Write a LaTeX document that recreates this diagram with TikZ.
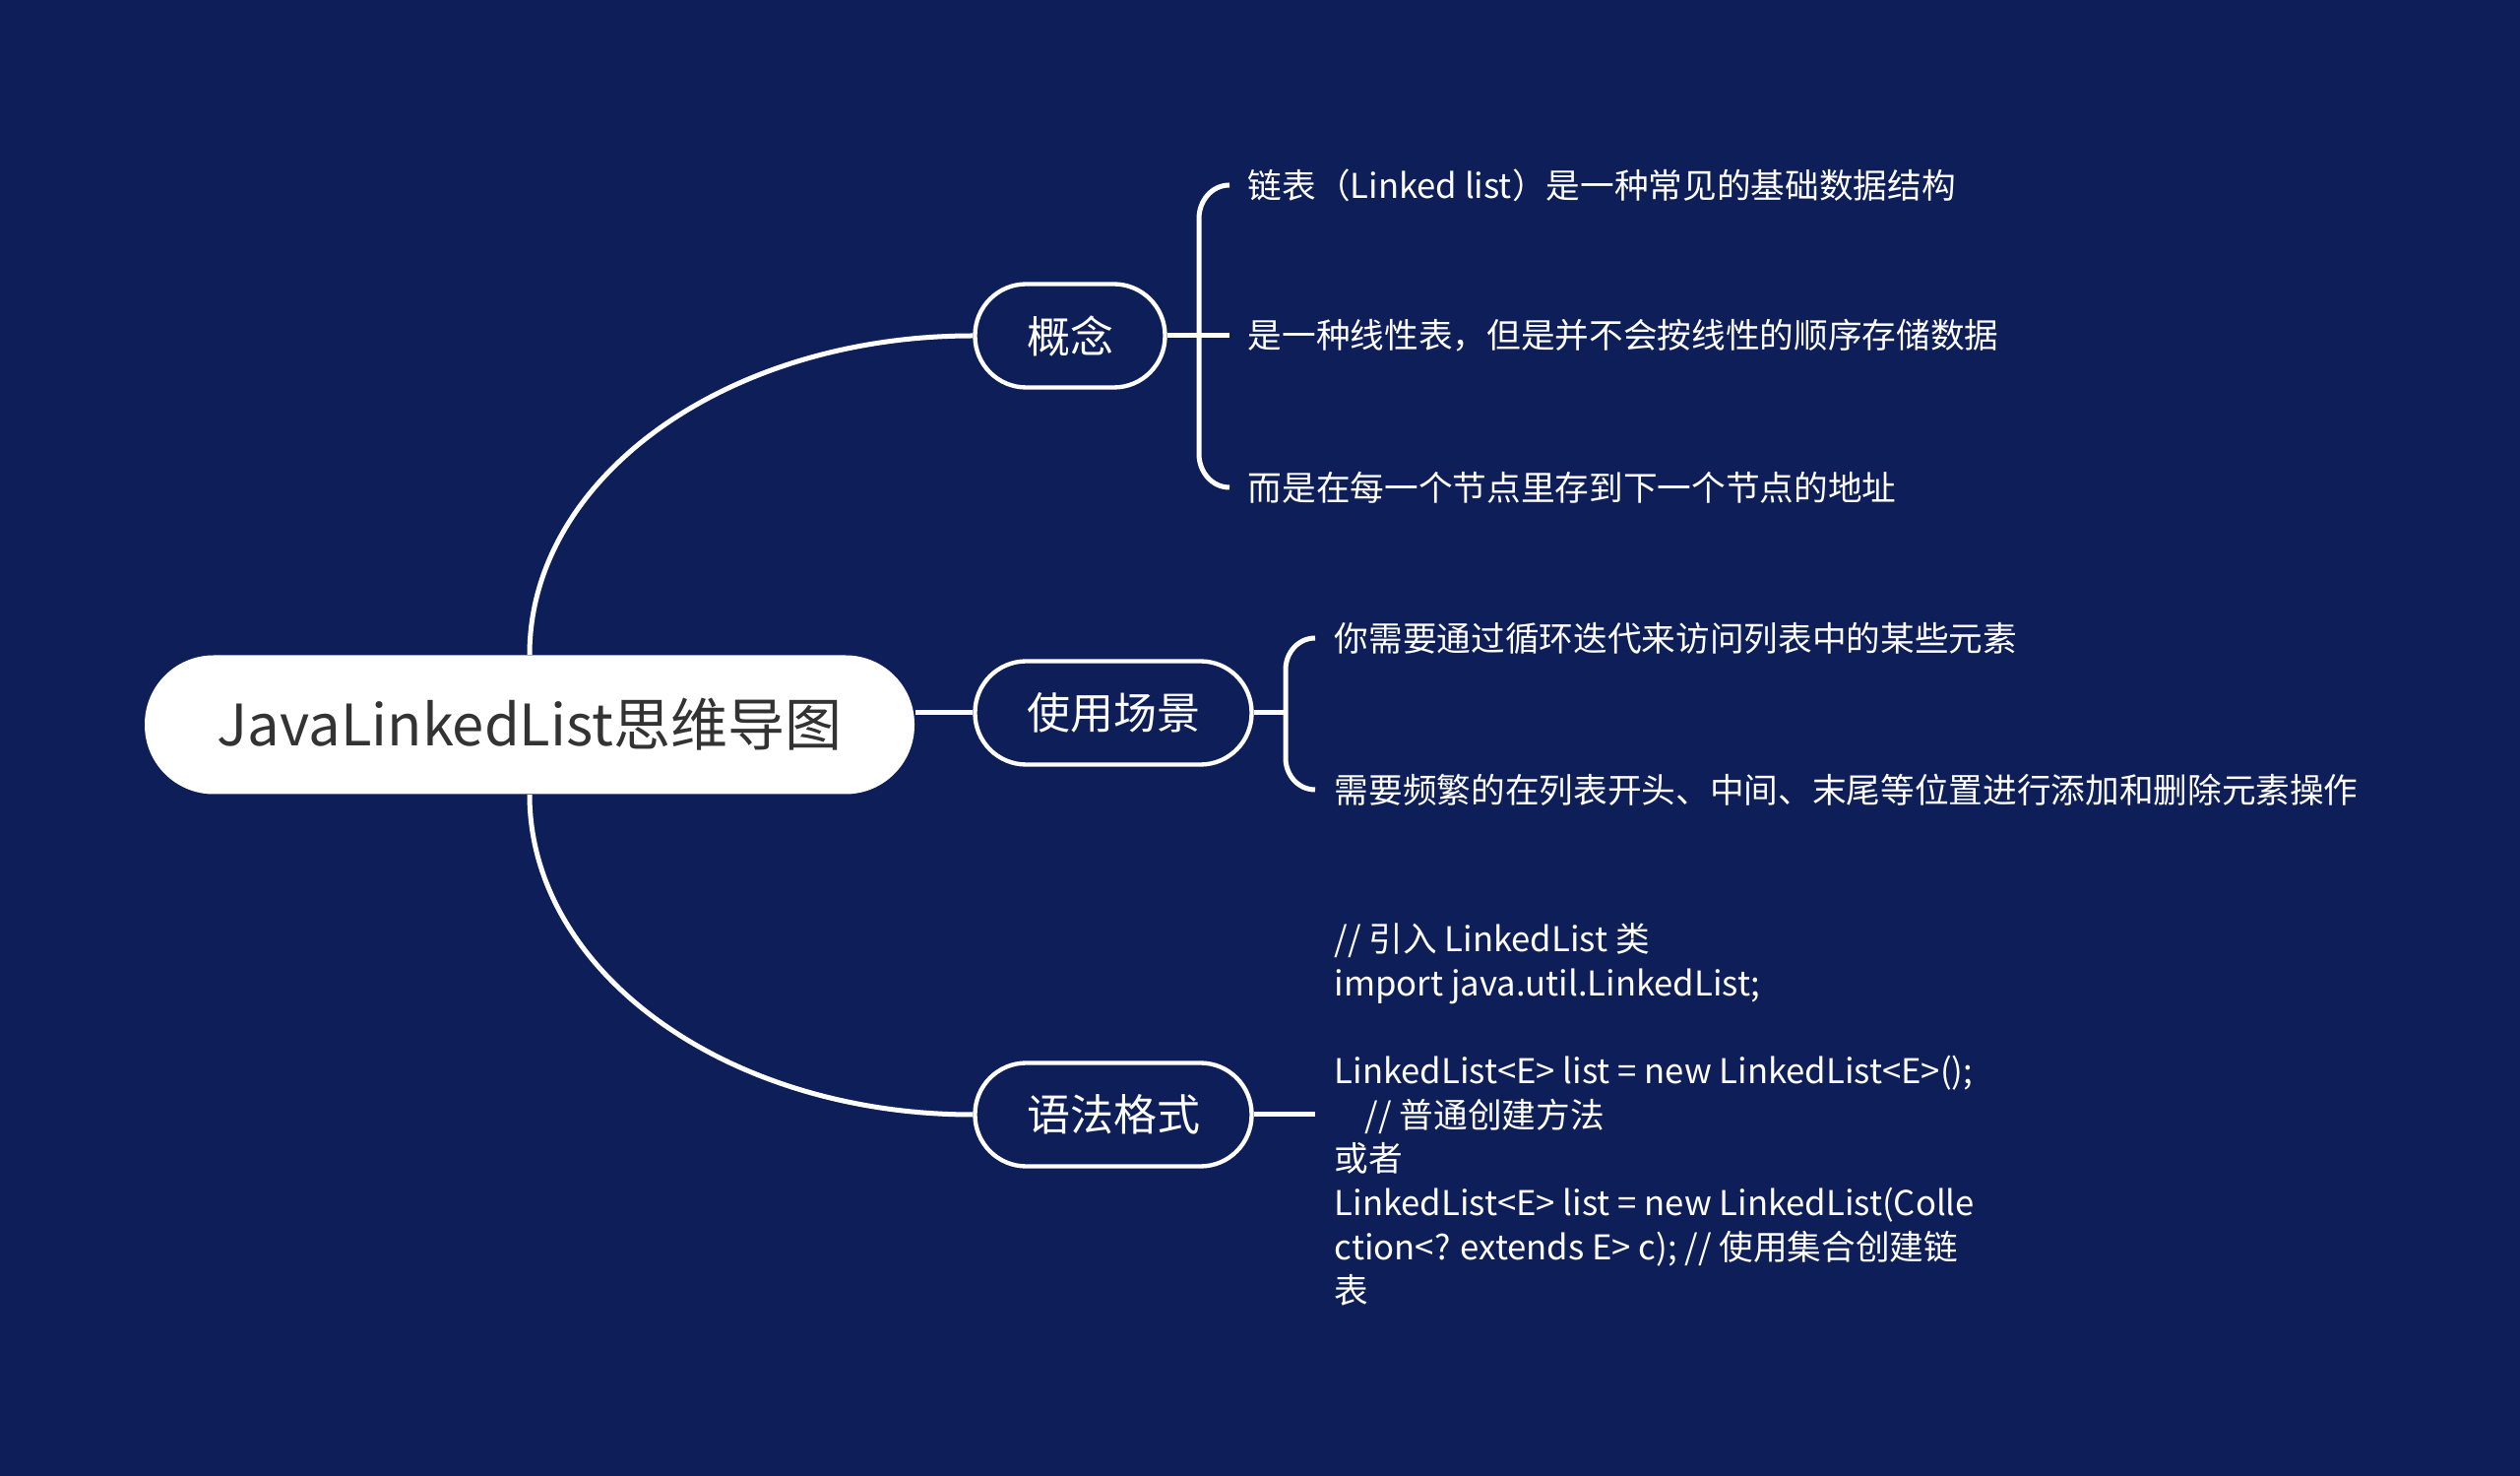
\documentclass[tikz,border=0pt]{standalone}
\usepackage{fontspec}
\usetikzlibrary{calc}
\setmainfont{Noto Sans CJK SC}
\definecolor{bg}{RGB}{14,30,88}
\definecolor{roottext}{RGB}{51,51,51}
\begin{document}
\begin{tikzpicture}[x=0.3pt,y=-0.3pt,
  rootnode/.style={fill=white, rounded corners=21pt, minimum width=234.6pt, minimum height=42.3pt,
    text=roottext, font=\fontsize{17.4pt}{20pt}\selectfont, inner sep=0pt},
  branchnode/.style={draw=white, line width=1.3pt, fill=bg, text=white, rounded corners=15.6pt,
    minimum height=31.5pt, font=\fontsize{13.2pt}{16pt}\selectfont, inner sep=0pt},
  leafnode/.style={text=white, anchor=west, inner sep=0pt, align=left,
    font=\fontsize{10.4pt}{13.4pt}\selectfont},
  link/.style={draw=white, line width=1.5pt}]
\fill[bg] (0,0) rectangle (2560,1499);
\useasboundingbox (0,0) rectangle (2560,1499);

\node[rootnode] (root) at (538,736) {JavaLinkedList思维导图};
\node[branchnode, minimum width=57.9pt] (b1) at (1087,341) {概念};
\node[branchnode, minimum width=84.3pt] (b2) at (1131,724) {使用场景};
\node[branchnode, minimum width=84.3pt] (b3) at (1131,1132) {语法格式};

\node[leafnode] (l11) at (1267,188) {链表（Linked list）是一种常见的基础数据结构};
\node[leafnode] (l12) at (1267,341) {是一种线性表，但是并不会按线性的顺序存储数据};
\node[leafnode] (l13) at (1267,495) {而是在每一个节点里存到下一个节点的地址};
\node[leafnode] (l21) at (1355,648) {你需要通过循环迭代来访问列表中的某些元素};
\node[leafnode] (l22) at (1355,802) {需要频繁的在列表开头、中间、末尾等位置进行添加和删除元素操作};
\node[leafnode] (l31) at (1355,1132) {// 引入 LinkedList 类\\
import java.util.LinkedList;\\[13.4pt]
LinkedList<E> list = new LinkedList<E>();\\
\hspace*{0.9em}// 普通创建方法\\
或者\\
LinkedList<E> list = new LinkedList(Colle\\
ction<? extends E> c); // 使用集合创建链\\
表};

% root to branches
\draw[link] (root.north) .. controls ($(root.north)+(0,-180)$) and ($(b1.west)+(-250,0)$) .. (b1.west);
\draw[link] (b2.west -| root.east) -- (b2.west);
\draw[link] (root.south) .. controls ($(root.south)+(0,180)$) and ($(b3.west)+(-250,0)$) .. (b3.west);

% bracket for b1
\draw[link] (b1.east) -- ($(l12.west)+(-18,0)$);
\draw[link] ($(l11.west)+(-18,0)$) to[out=180,in=90] (1218,222) -- (1218,461) to[out=-90,in=180] ($(l13.west)+(-18,0)$);

% bracket for b2
\draw[link] (b2.east) -- (1306,724);
\draw[link] ($(l21.west)+(-19,0)$) to[out=180,in=90] (1306,680) -- (1306,770) to[out=-90,in=180] ($(l22.west)+(-19,0)$);

% line for b3
\draw[link] (b3.east) -- ($(l31.west)+(-19,0)$);
\end{tikzpicture}
\end{document}
